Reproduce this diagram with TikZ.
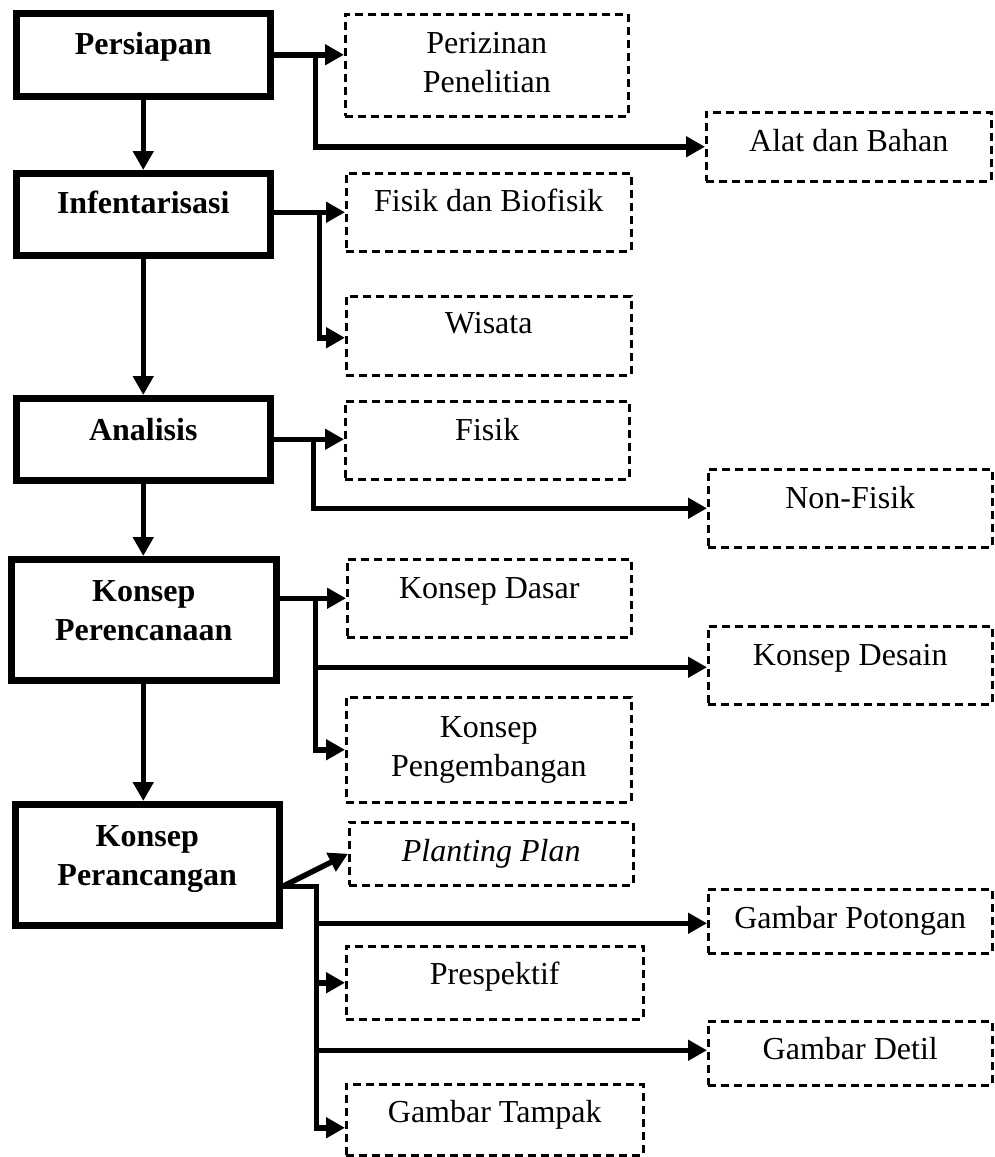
\documentclass[tikz,border=0pt]{standalone}
\usepackage{fontspec}
\setmainfont{Liberation Serif}
\usetikzlibrary{arrows.meta,calc}
\newcommand\twoline[2]{\begin{tabular}[t]{@{}c@{}}#1\\#2\end{tabular}}
\begin{document}
\begin{tikzpicture}[x=1pt,y=-1pt,
  mainbox/.style={draw,line width=6.5pt,inner sep=0pt,anchor=north west},
  subbox/.style={draw,line width=2.5pt,dash pattern=on 8pt off 5pt,inner sep=0pt,anchor=north west},
  txt/.style={inner sep=0pt,anchor=base,font=\fontsize{32}{39}\selectfont},
  btxt/.style={inner sep=0pt,anchor=base,font=\fontsize{32}{39}\selectfont\bfseries},
  conn/.style={line width=5.5pt,-{Triangle[length=19pt,width=20pt]}},
  bus/.style={line width=5.5pt}
]
\useasboundingbox (0,0) rectangle (995,1157);

% main boxes
\node[mainbox,minimum width=254pt,minimum height=83pt] (persiapan) at (13,10) {};
\node[mainbox,minimum width=254pt,minimum height=82pt] (infent) at (13,170) {};
\node[mainbox,minimum width=254pt,minimum height=82pt] (analisis) at (13,395) {};
\node[mainbox,minimum width=265pt,minimum height=121pt] (perencanaan) at (8,556) {};
\node[mainbox,minimum width=264pt,minimum height=121pt] (perancangan) at (12,801) {};

\node[btxt] (tpersiapan) at ($(persiapan.north)+(0,44)$) {Persiapan};
\node[btxt] (tinfent) at ($(infent.north)+(0,43)$) {Infentarisasi};
\node[btxt] (tanalisis) at ($(analisis.north)+(0,45)$) {Analisis};
\node[btxt] (tperencanaan) at ($(perencanaan.north)+(0,45)$) {\twoline{Konsep}{Perencanaan}};
\node[btxt] (tperancangan) at ($(perancangan.north)+(0,45)$) {\twoline{Konsep}{Perancangan}};

% dashed boxes
\node[subbox,minimum width=283pt,minimum height=102pt] (perizinan) at (344,13) {};
\node[subbox,minimum width=285pt,minimum height=69pt] (alat) at (705,111) {};
\node[subbox,minimum width=285pt,minimum height=78pt] (fisikbio) at (345,172) {};
\node[subbox,minimum width=285pt,minimum height=79pt] (wisata) at (345,295) {};
\node[subbox,minimum width=284pt,minimum height=78pt] (fisik) at (344,400) {};
\node[subbox,minimum width=284pt,minimum height=78pt] (nonfisik) at (707,468) {};
\node[subbox,minimum width=284pt,minimum height=78pt] (kdasar) at (346,558) {};
\node[subbox,minimum width=284pt,minimum height=78pt] (kdesain) at (707,625) {};
\node[subbox,minimum width=285pt,minimum height=105pt] (kpeng) at (345,696) {};
\node[subbox,minimum width=284pt,minimum height=63pt] (planting) at (348,821) {};
\node[subbox,minimum width=284pt,minimum height=64pt] (potongan) at (707,888) {};
\node[subbox,minimum width=297pt,minimum height=73pt] (prespektif) at (345,945) {};
\node[subbox,minimum width=284pt,minimum height=64pt] (detil) at (707,1020) {};
\node[subbox,minimum width=297pt,minimum height=71pt] (tampak) at (345,1083) {};

\node[txt] (tperizinan) at ($(perizinan.north)+(0,40)$) {\twoline{Perizinan}{Penelitian}};
\node[txt] (talat) at ($(alat.north)+(0,40)$) {Alat dan Bahan};
\node[txt] (tfisikbio) at ($(fisikbio.north)+(0,39)$) {Fisik dan Biofisik};
\node[txt] (twisata) at ($(wisata.north)+(0,38)$) {Wisata};
\node[txt] (tfisik) at ($(fisik.north)+(0,40)$) {Fisik};
\node[txt] (tnonfisik) at ($(nonfisik.north)+(0,40)$) {Non-Fisik};
\node[txt] (tkdasar) at ($(kdasar.north)+(0,40)$) {Konsep Dasar};
\node[txt] (tkdesain) at ($(kdesain.north)+(0,40)$) {Konsep Desain};
\node[txt] (tkpeng) at ($(kpeng.north)+(0,41)$) {\twoline{Konsep}{Pengembangan}};
\node[txt] (tplanting) at ($(planting.north)+(0,40)$) {\itshape Planting Plan};
\node[txt] (tpotongan) at ($(potongan.north)+(0,40)$) {Gambar Potongan};
\node[txt] (tprespektif) at ($(prespektif.north)+(0,39)$) {Prespektif};
\node[txt] (tdetil) at ($(detil.north)+(0,39)$) {Gambar Detil};
\node[txt] (ttampak) at ($(tampak.north)+(0,39)$) {Gambar Tampak};

% vertical main flow
\draw[conn] (persiapan.south) -- (persiapan.south |- infent.north);
\draw[conn] (infent.south) -- (infent.south |- analisis.north);
\draw[conn] (analisis.south) -- (analisis.south |- perencanaan.north);
\draw[conn] (perencanaan.south -| analisis.south) -- (perancangan.north -| analisis.south);

% Persiapan branches
\coordinate (b1) at ($(persiapan.east)+(42,0)$);
\draw[conn] (persiapan.east) -- (persiapan.east -| perizinan.west);
\draw[conn] (b1) |- (alat.west);

% Infentarisasi branches
\coordinate (i2) at ($(infent.east)+(0,-2)$);
\coordinate (b2) at ($(i2)+(46,0)$);
\draw[conn] (i2) -- (i2 -| fisikbio.west);
\coordinate (w2) at ($(wisata.west)+(0,2)$);
\draw[conn] (b2) |- (w2);

% Analisis branches
\coordinate (b3) at ($(analisis.east)+(40,0)$);
\draw[conn] (analisis.east) -- (analisis.east -| fisik.west);
\draw[conn] (b3) |- (nonfisik.west);

% Konsep Perencanaan branches
\coordinate (p4) at (perencanaan.east |- kdasar.west);
\coordinate (b4) at ($(p4)+(36,0)$);
\draw[conn] (p4) -- (kdasar.west);
\coordinate (d4) at ($(kdesain.west)+(0,2)$);
\draw[conn] (b4) |- (d4);
\draw[conn] (b4) |- (kpeng.west);

% Konsep Perancangan branches
\coordinate (p5) at ($(perancangan.south east)+(0,-42)$);
\coordinate (b5) at ($(p5)+(34,0)$);
\coordinate (g1) at ($(potongan.west)+(0,2)$);
\coordinate (g2) at ($(detil.west)+(0,-3)$);
\coordinate (g3) at ($(tampak.west)+(0,8)$);
\draw[conn] (p5) -- (planting.west);
\draw[conn] (p5) -- (b5) |- (g1);
\draw[conn] (b5) |- (prespektif.west);
\draw[conn] (b5) |- (g2);
\draw[conn] (b5) |- (g3);
\end{tikzpicture}
\end{document}
